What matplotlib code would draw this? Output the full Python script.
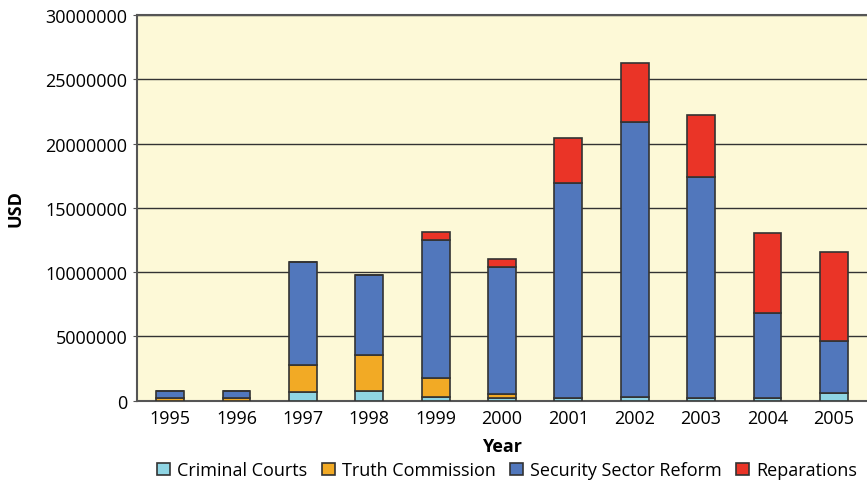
import matplotlib
matplotlib.use("Agg")
import matplotlib.pyplot as plt
import numpy as np

years = ["1995", "1996", "1997", "1998", "1999", "2000",
         "2001", "2002", "2003", "2004", "2005"]
criminal_courts = [0.0, 0.0, 0.65, 0.75, 0.26, 0.20, 0.20, 0.26, 0.23, 0.18, 0.62]
truth_commission = [0.23, 0.23, 2.12, 2.82, 1.52, 0.30, 0.0, 0.0, 0.0, 0.0, 0.0]
security_reform = [0.50, 0.50, 7.98, 6.17, 10.75, 9.89, 16.73, 21.42, 17.13, 6.62, 4.01]
reparations = [0.0, 0.0, 0.0, 0.0, 0.62, 0.61, 3.47, 4.60, 4.89, 6.22, 6.92]

series = [
    ("Criminal Courts", criminal_courts, "#8fd5e4"),
    ("Truth Commission", truth_commission, "#f2aa25"),
    ("Security Sector Reform", security_reform, "#5177bc"),
    ("Reparations", reparations, "#ea3427"),
]

plt.rcParams["font.family"] = ["Open Sans", "DejaVu Sans"]

fig = plt.figure(figsize=(8.67, 4.85), dpi=100)
ax = fig.add_axes([0.158, 0.172, 0.842, 0.795])
ax.set_facecolor("#fdf9d7")

x = np.arange(len(years))
bottom = np.zeros(len(years))
for name, vals, col in series:
    v = np.array(vals) * 1e6
    ax.bar(x, v, width=0.42, bottom=bottom, color=col, edgecolor="#333333",
           linewidth=1.2, label=name, zorder=3)
    bottom += v

ax.set_xlim(-0.5, 10.5)
ax.set_ylim(0, 30000000)
ax.set_yticks(np.arange(0, 30000001, 5000000))
ax.set_yticklabels([str(t) for t in range(0, 30000001, 5000000)])
ax.set_xticks(x)
ax.set_xticklabels(years)
ax.yaxis.grid(True, color="#333333", linewidth=1.0, zorder=0)
ax.set_axisbelow(True)

for s in ["left", "bottom", "top"]:
    ax.spines[s].set_color("#555555")
    ax.spines[s].set_linewidth(1.5)
ax.spines["right"].set_visible(False)

ax.tick_params(axis="y", length=3, color="#555555", labelsize=13, pad=4)
ax.tick_params(axis="x", length=0, labelsize=13, pad=6)

ax.set_ylabel("USD", fontsize=13, fontweight="bold", labelpad=15)
ax.set_xlabel("Year", fontsize=13, fontweight="bold", labelpad=7)

fig.legend(loc="lower center", bbox_to_anchor=(0.585, -0.024), ncol=4,
           frameon=False, fontsize=13, handlelength=0.7, handleheight=0.7,
           handletextpad=0.4, columnspacing=0.8)

fig.savefig("out.png", dpi=100)
